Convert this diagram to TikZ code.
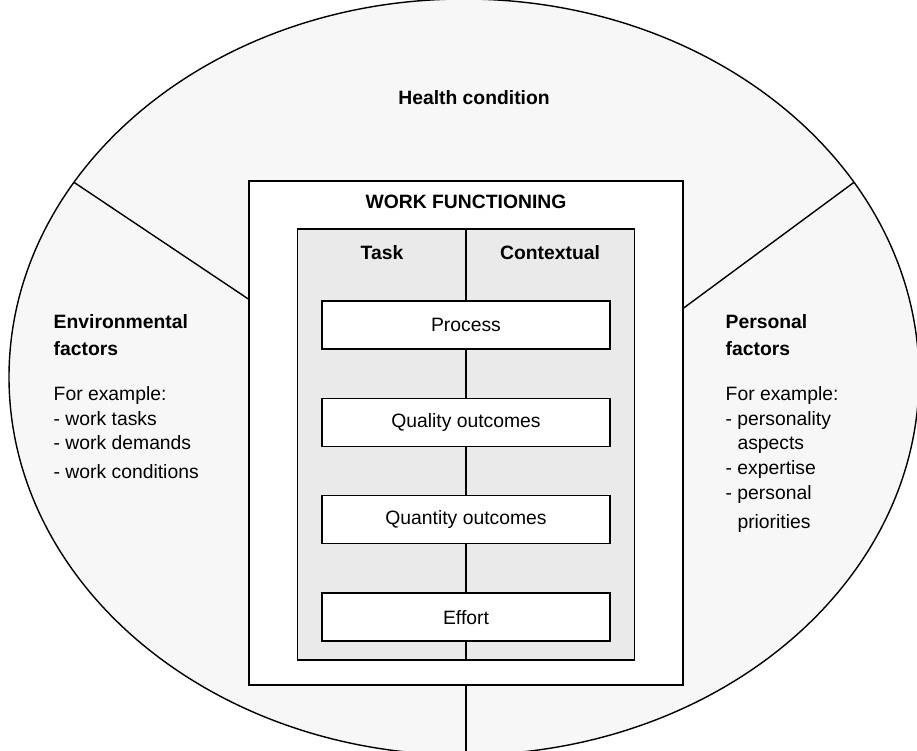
\documentclass[tikz,border=0pt]{standalone}
\usepackage{fontspec}
\setmainfont{Liberation Sans}
\usepackage{tikz}
\usetikzlibrary{positioning}
\definecolor{ellgray}{HTML}{F7F7F7}
\definecolor{boxgray}{HTML}{EAEAEA}

\begin{document}
\begin{tikzpicture}[x=0.02cm, y=-0.02cm, line width=0.8pt,
	every node/.style={font=\fontsize{11}{14}\selectfont},
	head/.style={font=\fontsize{11}{15}\selectfont\bfseries, align=left, inner sep=0pt},
	example/.style={font=\fontsize{11}{14}\selectfont, align=left, inner sep=0pt},
	bar/.style={draw, fill=white, minimum width=5.76cm, minimum height=0.96cm, inner sep=0pt}]
		\useasboundingbox (0,0) rectangle (917,751);
		
		% Health condition
		\coordinate (ellC) at (464,377);
		\filldraw[fill=ellgray] (ellC) ellipse [x radius=455, y radius=378];
		\coordinate (ellL) at ([shift={(464,377)}]211:455 and 378);
		\coordinate (ellR) at ([shift={(464,377)}]329:455 and 378);
		\coordinate (ellB) at ([shift={(464,377)}]90:455 and 378);
		\node[head] (health) at (474,98) {Health condition};
		
		% Work functioning
		\node[draw, fill=white, minimum width=8.68cm, minimum height=10.08cm] (wf) at (466,433) {};
		\node[head] (wftitle) at (466,202) {WORK FUNCTIONING};
		\node[draw, fill=boxgray, minimum width=6.74cm, minimum height=8.62cm] (dims) at (466,444.5) {};
		\draw (dims.north) -- (dims.south);
		\node[head] (task) at (382,253) {Task};
		\node[head] (context) at (550,253) {Contextual};
		
		\node[bar] (process) at (466,325) {Process};
		\node[bar, below=0.96cm of process] (quality) {Quality outcomes};
		\node[bar, below=0.96cm of quality] (quantity) {Quantity outcomes};
		\node[bar, below=0.96cm of quantity] (effort) {Effort};
		
		% dividers
		\draw (ellL) -- (wf.west |- 0,299);
		\draw (ellR) -- (wf.east |- 0,308);
		\draw (wf.south) -- (wf.south |- ellB);
		
		% Environmental
		\node[head, anchor=north west] (envhead) at (53,314) {Environmental\\factors};
		\node[example, anchor=north west] (envex) at (53,386) {For example:\\- work tasks\\- work demands\\[2pt]- work conditions};
		% Personal
		\node[head, anchor=north west] (perhead) at (725,314) {Personal\\factors};
		\node[example, anchor=north west] (perex) at (725,386) {For example:\\- personality\\\hphantom{- }aspects\\- expertise\\- personal\\[3pt]\hphantom{- }priorities};
	\end{tikzpicture}
\end{document}
